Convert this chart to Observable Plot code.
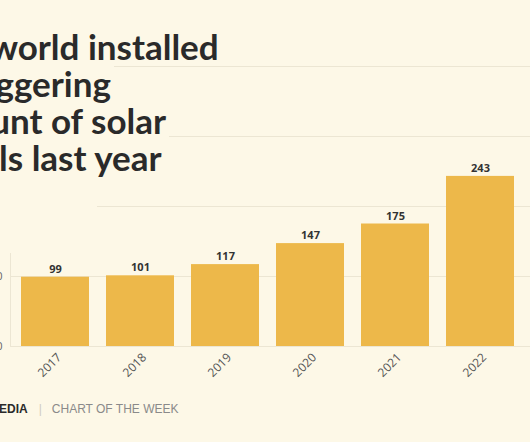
<!DOCTYPE html>
<html>
<head>
<meta charset="utf-8">
<script src="https://cdn.jsdelivr.net/npm/d3@7"></script>
<script src="https://cdn.jsdelivr.net/npm/@observablehq/plot@0.6"></script>
<style>
  html, body { margin: 0; padding: 0; background: #fdf8e7; }
  #wrap { position: relative; width: 530px; height: 442px; overflow: hidden; background: #fdf8e7; }
  #chart { position: absolute; left: 0; top: 0; }
  #title { position: absolute; top: 0; left: -77px; font-family: Lato, "Open Sans", sans-serif; font-weight: bold;
           font-size: 35px; line-height: 37px; color: #2a2a2a; white-space: nowrap; }
  #title .line { display: table; background: #fdf8e7; padding-right: 3px; }
  #title .top { width: 174px; height: 28px; background: #fdf8e7; }
  #title .spacer { width: 174px; height: 77px; background: #fdf8e7; }
  #footer { position: absolute; top: 402px; left: -65px; font-family: "Liberation Sans", Arial, sans-serif;
            font-size: 12px; white-space: nowrap; color: #8a8a8a; }
  #footer .brand { font-weight: bold; color: #2a2a2a; }
  #footer .sep { color: #d0ccc0; margin: 0 10px 0 11px; }
</style>
</head>
<body>
<div id="wrap">
  <div id="chart"></div>
  <div id="title">
    <div class="top"></div>
    <div class="line">The world installed</div>
    <div class="line">a staggering</div>
    <div class="line">amount of solar</div>
    <div class="line">panels last year</div>
    <div class="spacer"></div>
  </div>
  <div id="footer"><span class="brand">CANARY MEDIA</span><span class="sep">|</span><span>CHART OF THE WEEK</span></div>
</div>
<script>
const years = ["2017", "2018", "2019", "2020", "2021", "2022"];
const values = [99, 101, 117, 147, 175, 243];
const yTicks = [0, 100, 200, 300, 400];

const data = years.map((year, i) => ({year, value: values[i]}));

const chart = Plot.plot({
  width: 530,
  height: 390,
  marginLeft: 10,
  marginRight: 0,
  marginTop: 0,
  marginBottom: 44,
  style: {background: "transparent", fontFamily: "'Open Sans', sans-serif", overflow: "visible"},
  x: {domain: years, range: [2, 532], padding: 0.2, label: null},
  y: {domain: [0, 400], range: [346, 66], label: null},
  marks: [
    Plot.gridY(yTicks, {stroke: "#ece6d3", strokeOpacity: 1}),
    Plot.frame({anchor: "left", stroke: "#ece6d3"}),
    Plot.barY(data, {x: "year", y: "value", fill: "#edb84a"}),
    Plot.text(data, {x: "year", y: "value", text: d => String(d.value), dy: -8,
      fontWeight: "bold", fontSize: 11, fill: "#333"}),
    Plot.axisY(yTicks, {tickSize: 0, tickPadding: 8, fontSize: 11, fill: "#666", label: null}),
    Plot.axisX({tickRotate: -45, tickSize: 0, tickPadding: 9, dx: 4, fontSize: 12, fill: "#555", label: null})
  ]
});
document.getElementById("chart").appendChild(chart);
</script>
</body>
</html>
